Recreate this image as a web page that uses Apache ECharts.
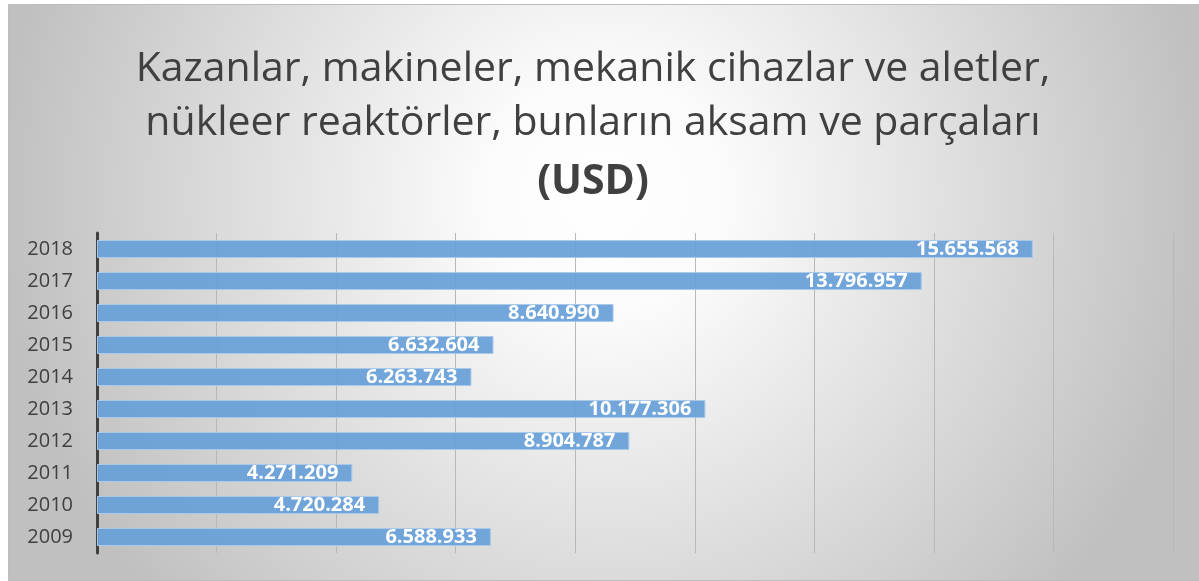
<!DOCTYPE html>
<html>
<head>
<meta charset="utf-8">
<script src="https://cdn.jsdelivr.net/npm/echarts@6/dist/echarts.min.js"></script>
<style>
html,body{margin:0;padding:0;background:#ffffff;width:1199px;height:581px;overflow:hidden;}
#chart{position:absolute;left:8px;top:4px;width:1191px;height:575px;border-top:1px solid #bdbdbd;border-left:1px solid #bdbdbd;border-bottom:1px solid #bdbdbd;}
</style>
</head>
<body>
<div id="chart"></div>
<script>
const years = ['2009','2010','2011','2012','2013','2014','2015','2016','2017','2018'];
const values = [6588933, 4720284, 4271209, 8904787, 10177306, 6263743, 6632604, 8640990, 13796957, 15655568];
const titleLines = ['Kazanlar, makineler, mekanik cihazlar ve aletler,', 'nükleer reaktörler, bunların aksam ve parçaları', '(USD)'];
const axisMax = 18000000;
const axisStep = 2000000;

function fmt(v){ return String(v).replace(/\B(?=(\d{3})+(?!\d))/g, '.'); }

const chart = echarts.init(document.getElementById('chart'), null, {renderer:'canvas'});
chart.setOption({
  backgroundColor: {
    type: 'radial', x: 0.5, y: 0.33, r: 1.05,
    colorStops: [
      {offset: 0, color: '#ffffff'},
      {offset: 0.2, color: '#fbfbfb'},
      {offset: 1, color: '#c0c0c0'}
    ]
  },
  animation: false,
  graphic: [
    {type:'text', x: 584, y: 64, style:{text: titleLines[0], fill:'#404040', font:'41px "Open Sans"', textAlign:'center', textVerticalAlign:'middle'}},
    {type:'text', x: 584, y: 118, style:{text: titleLines[1], fill:'#404040', font:'41px "Open Sans"', textAlign:'center', textVerticalAlign:'middle'}},
    {type:'text', x: 584, y: 177, style:{text: titleLines[2], fill:'#404040', font:'bold 41px "Open Sans"', textAlign:'center', textVerticalAlign:'middle'}}
  ],
  grid: {left: 88, right: 27, top: 228, bottom: 27, containLabel: false},
  xAxis: {
    type: 'value', min: 0, max: axisMax, interval: axisStep,
    axisLabel: {show: false}, axisLine: {show: false}, axisTick: {show: false},
    splitLine: {show: true, lineStyle: {color: '#b8b8b8', width: 1}}
  },
  yAxis: {
    type: 'category', data: years,
    axisLine: {show: true, lineStyle: {color: '#404040', width: 3}},
    axisTick: {show: false},
    axisLabel: {color: '#404040', fontSize: 20, fontFamily: 'Open Sans', margin: 24}
  },
  series: [{
    type: 'bar', data: values, barWidth: 18,
    itemStyle: {color: 'rgba(104,160,216,0.93)', borderColor: '#a9c8ea', borderWidth: 1},
    label: {
      show: true, position: 'insideRight', distance: 14,
      color: '#ffffff', fontWeight: 'bold', fontSize: 20, fontFamily: 'Open Sans',
      formatter: p => fmt(p.value)
    }
  }]
});
</script>
</body>
</html>
